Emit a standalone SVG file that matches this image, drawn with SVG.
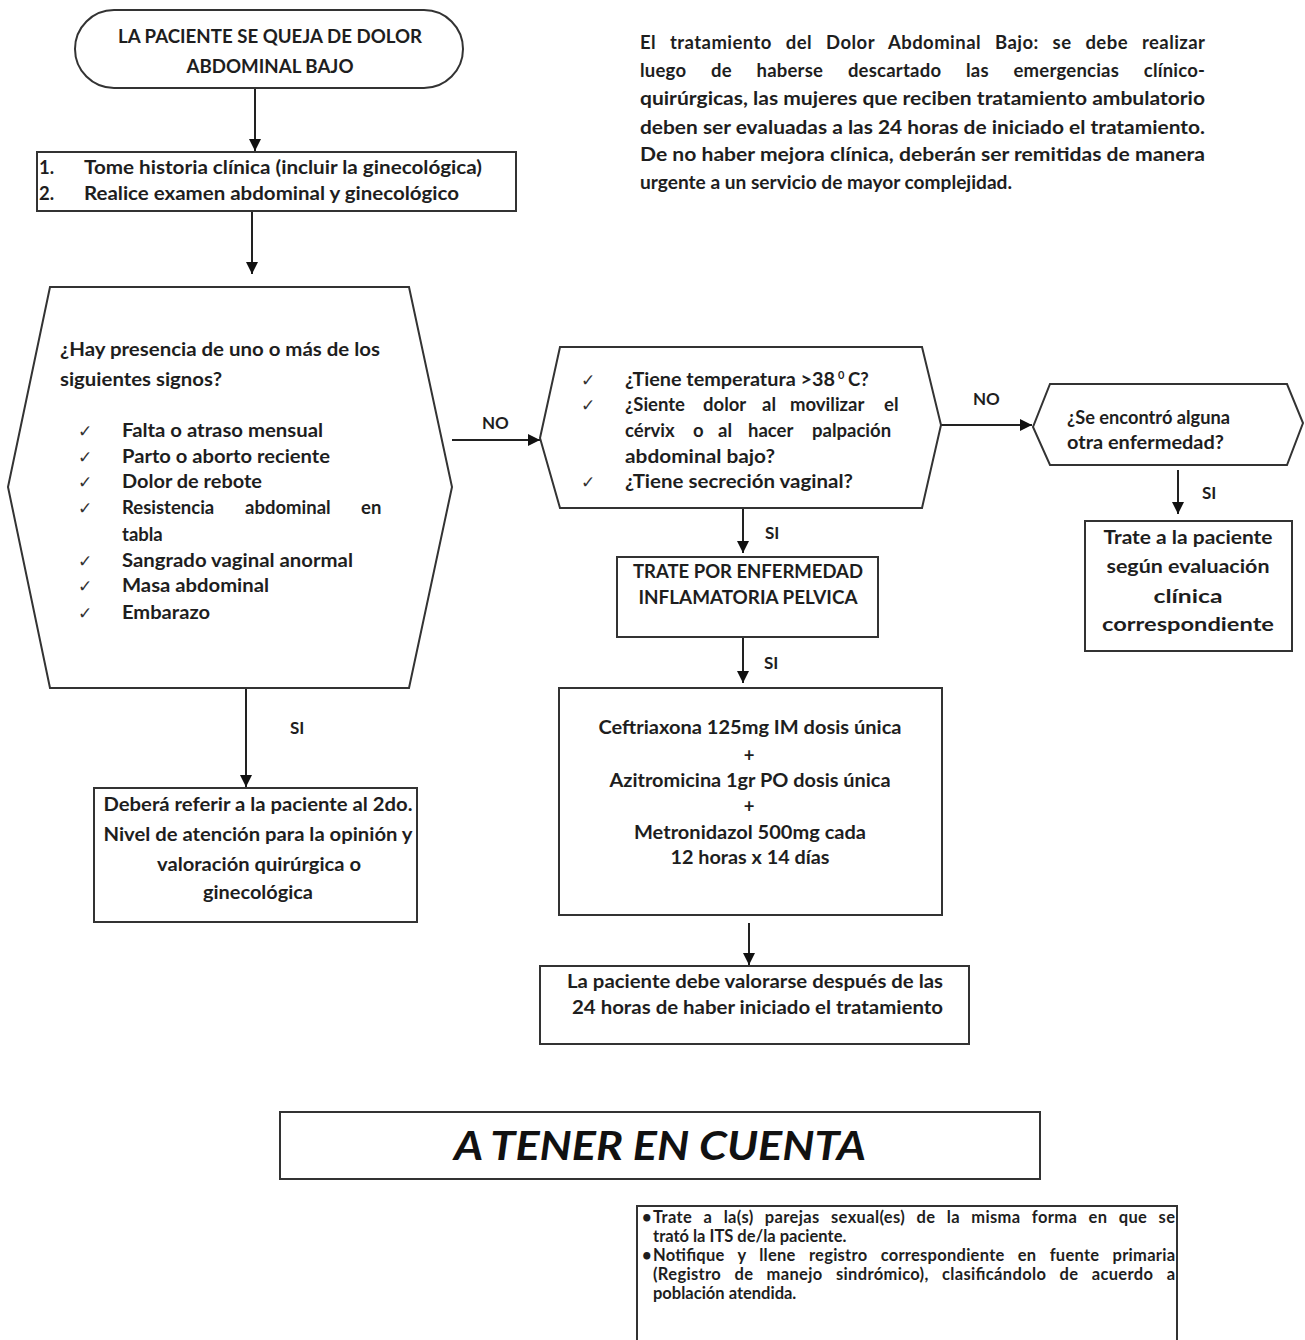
<svg xmlns="http://www.w3.org/2000/svg" width="1305" height="1340" viewBox="0 0 1305 1340">
<defs>
<style>
.sh{fill:#fff;stroke:#333;stroke-width:2}
.t{font-family:Lato,"Open Sans","Liberation Sans",sans-serif;font-weight:bold;font-size:18.5px;fill:#1e1e1e}
.p{font-family:Lato,"Open Sans","Liberation Sans",sans-serif;font-weight:bold;font-size:18.5px;fill:#1e1e1e}
.n{font-family:Lato,"Open Sans","Liberation Sans",sans-serif;font-weight:bold;font-size:16.5px;fill:#1e1e1e}
.ck{font-family:"DejaVu Sans",sans-serif;font-size:17px;fill:#333}
.c{text-anchor:middle}
.lbl{font-family:Lato,"Open Sans","Liberation Sans",sans-serif;font-weight:bold;font-size:17px;fill:#1e1e1e}
.ttl{font-family:Lato,"Open Sans","Liberation Sans",sans-serif;font-style:italic;font-weight:bold;font-size:41px;fill:#111}
.ln{stroke:#222;stroke-width:2;fill:none}
</style>
<marker id="ah" viewBox="0 0 10 10" refX="10" refY="5" markerWidth="6" markerHeight="6" orient="auto" markerUnits="strokeWidth">
<path d="M0,0 L10,5 L0,10 z" fill="#111"/>
</marker>
</defs>
<rect width="1305" height="1340" fill="#fff"/>

<g id="connectors">
<line class="ln" x1="255" y1="88" x2="255" y2="151" marker-end="url(#ah)"/>
<line class="ln" x1="252" y1="211" x2="252" y2="274" marker-end="url(#ah)"/>
<line class="ln" x1="452" y1="440" x2="540" y2="440" marker-end="url(#ah)"/>
<line class="ln" x1="940" y1="425" x2="1032" y2="425" marker-end="url(#ah)"/>
<line class="ln" x1="743" y1="508" x2="743" y2="553" marker-end="url(#ah)"/>
<line class="ln" x1="743" y1="637" x2="743" y2="683" marker-end="url(#ah)"/>
<line class="ln" x1="1178" y1="470" x2="1178" y2="514" marker-end="url(#ah)"/>
<line class="ln" x1="246" y1="688" x2="246" y2="787" marker-end="url(#ah)"/>
<line class="ln" x1="749" y1="923" x2="749" y2="965" marker-end="url(#ah)"/>
<text class="lbl" x="482" y="429">NO</text>
<text class="lbl" x="973" y="405">NO</text>
<text class="lbl" x="765" y="539">SI</text>
<text class="lbl" x="764" y="669">SI</text>
<text class="lbl" x="1202" y="499">SI</text>
<text class="lbl" x="290" y="734">SI</text>
</g>

<g id="start">
<rect class="sh" x="75" y="10" width="388" height="78" rx="39"/>
<text class="t c" x="270" y="43" textLength="304" lengthAdjust="spacingAndGlyphs">LA PACIENTE SE QUEJA DE DOLOR</text>
<text class="t c" x="270" y="73" textLength="167" lengthAdjust="spacingAndGlyphs">ABDOMINAL BAJO</text>
</g>

<g id="note-top">
<text class="p" x="640" y="49" word-spacing="9" textLength="565">El tratamiento del Dolor Abdominal Bajo: se debe realizar</text>
<text class="p" x="640" y="77" word-spacing="20" textLength="565">luego de haberse descartado las emergencias clínico-</text>
<text class="p" x="640" y="105" textLength="565" lengthAdjust="spacingAndGlyphs">quirúrgicas, las mujeres que reciben tratamiento ambulatorio</text>
<text class="p" x="640" y="134" textLength="565" lengthAdjust="spacingAndGlyphs">deben ser evaluadas a las 24 horas de iniciado el tratamiento.</text>
<text class="p" x="640" y="161" textLength="565" lengthAdjust="spacingAndGlyphs">De no haber mejora clínica, deberán ser remitidas de manera</text>
<text class="p" x="640" y="189" textLength="372" lengthAdjust="spacingAndGlyphs">urgente a un servicio de mayor complejidad.</text>
</g>

<g id="step1">
<rect class="sh" x="37" y="152" width="479" height="59"/>
<text class="t" x="39" y="174">1.</text>
<text class="t" x="84" y="174" textLength="398" lengthAdjust="spacingAndGlyphs">Tome historia clínica (incluir la ginecológica)</text>
<text class="t" x="39" y="200">2.</text>
<text class="t" x="84" y="200" textLength="375" lengthAdjust="spacingAndGlyphs">Realice examen abdominal y ginecológico</text>
</g>

<g id="decision1">
<polygon class="sh" points="50,287 409,287 452,487 409,688 50,688 8,487"/>
<text class="t" x="60" y="356" textLength="320" lengthAdjust="spacingAndGlyphs">¿Hay presencia de uno o más de los</text>
<text class="t" x="60" y="386" textLength="162" lengthAdjust="spacingAndGlyphs">siguientes signos?</text>
<text class="ck" x="78" y="437">✓</text>
<text class="ck" x="78" y="463">✓</text>
<text class="ck" x="78" y="488">✓</text>
<text class="ck" x="78" y="514">✓</text>
<text class="ck" x="78" y="567">✓</text>
<text class="ck" x="78" y="592">✓</text>
<text class="ck" x="78" y="619">✓</text>
<text class="t" x="122" y="437" textLength="201" lengthAdjust="spacingAndGlyphs">Falta o atraso mensual</text>
<text class="t" x="122" y="463" textLength="208" lengthAdjust="spacingAndGlyphs">Parto o aborto reciente</text>
<text class="t" x="122" y="488" textLength="140" lengthAdjust="spacingAndGlyphs">Dolor de rebote</text>
<text class="t" y="514"><tspan x="122">Resistencia</tspan><tspan x="245">abdominal</tspan><tspan x="361">en</tspan></text>
<text class="t" x="122" y="541">tabla</text>
<text class="t" x="122" y="567" textLength="231" lengthAdjust="spacingAndGlyphs">Sangrado vaginal anormal</text>
<text class="t" x="122" y="592" textLength="147" lengthAdjust="spacingAndGlyphs">Masa abdominal</text>
<text class="t" x="122" y="619" textLength="88" lengthAdjust="spacingAndGlyphs">Embarazo</text>
</g>

<g id="decision2">
<polygon class="sh" points="560,347 922,347 941,425 922,508 560,508 540,438"/>
<text class="ck" x="581" y="386">✓</text>
<text class="ck" x="581" y="411">✓</text>
<text class="ck" x="581" y="488">✓</text>
<text class="t" y="386"><tspan x="625" textLength="210" lengthAdjust="spacingAndGlyphs">¿Tiene temperatura &gt;38</tspan><tspan x="838" dy="-7" font-size="11">0</tspan><tspan x="848" dy="7">C?</tspan></text>
<text class="t" y="411"><tspan x="625">¿Siente</tspan><tspan x="703">dolor</tspan><tspan x="762">al</tspan><tspan x="790">movilizar</tspan><tspan x="884">el</tspan></text>
<text class="t" y="437"><tspan x="625">cérvix</tspan><tspan x="693">o</tspan><tspan x="718">al</tspan><tspan x="748">hacer</tspan><tspan x="812">palpación</tspan></text>
<text class="t" x="625" y="463" textLength="150" lengthAdjust="spacingAndGlyphs">abdominal bajo?</text>
<text class="t" x="625" y="488" textLength="228" lengthAdjust="spacingAndGlyphs">¿Tiene secreción vaginal?</text>
</g>

<g id="decision3">
<polygon class="sh" points="1050,384 1287,384 1303,423 1287,465 1050,465 1033,427"/>
<text class="t" x="1067" y="424" textLength="163" lengthAdjust="spacingAndGlyphs">¿Se encontró alguna</text>
<text class="t" x="1067" y="449" textLength="157" lengthAdjust="spacingAndGlyphs">otra enfermedad?</text>
</g>

<g id="treat-other">
<rect class="sh" x="1085" y="521" width="207" height="130"/>
<text class="t c" x="1188" y="544" textLength="169" lengthAdjust="spacingAndGlyphs">Trate a la paciente</text>
<text class="t c" x="1188" y="573" textLength="163" lengthAdjust="spacingAndGlyphs">según  evaluación</text>
<text class="t c" x="1188" y="603" textLength="69" lengthAdjust="spacingAndGlyphs">clínica</text>
<text class="t c" x="1188" y="631" textLength="172" lengthAdjust="spacingAndGlyphs">correspondiente</text>
</g>

<g id="treat-epi">
<rect class="sh" x="617" y="557" width="261" height="80"/>
<text class="t c" x="748" y="578" textLength="230" lengthAdjust="spacingAndGlyphs">TRATE POR ENFERMEDAD</text>
<text class="t c" x="748" y="604" textLength="219" lengthAdjust="spacingAndGlyphs">INFLAMATORIA PELVICA</text>
</g>

<g id="meds">
<rect class="sh" x="559" y="688" width="383" height="227"/>
<text class="t c" x="750" y="734" textLength="303" lengthAdjust="spacingAndGlyphs">Ceftriaxona 125mg IM dosis única</text>
<text class="t c" x="749" y="762">+</text>
<text class="t c" x="750" y="787" textLength="281" lengthAdjust="spacingAndGlyphs">Azitromicina 1gr PO dosis única</text>
<text class="t c" x="749" y="813">+</text>
<text class="t c" x="750" y="839" textLength="232" lengthAdjust="spacingAndGlyphs">Metronidazol 500mg cada</text>
<text class="t c" x="750" y="864" textLength="159" lengthAdjust="spacingAndGlyphs">12 horas x 14 días</text>
</g>

<g id="refer">
<rect class="sh" x="94" y="788" width="323" height="134"/>
<text class="t c" x="258" y="811" textLength="309" lengthAdjust="spacingAndGlyphs">Deberá referir a la paciente al 2do.</text>
<text class="t c" x="258" y="841" textLength="309" lengthAdjust="spacingAndGlyphs">Nivel de atención para la opinión y</text>
<text class="t c" x="259" y="871" textLength="204" lengthAdjust="spacingAndGlyphs">valoración quirúrgica o</text>
<text class="t c" x="258" y="899" textLength="110" lengthAdjust="spacingAndGlyphs">ginecológica</text>
</g>

<g id="reassess">
<rect class="sh" x="540" y="966" width="429" height="78"/>
<text class="t" x="567" y="988" textLength="376" lengthAdjust="spacingAndGlyphs">La paciente debe valorarse después de las</text>
<text class="t" x="572" y="1014" textLength="371" lengthAdjust="spacingAndGlyphs">24 horas de haber iniciado el tratamiento</text>
</g>

<g id="title">
<rect class="sh" x="280" y="1112" width="760" height="67"/>
<text class="ttl c" x="660" y="1160" textLength="412" lengthAdjust="spacingAndGlyphs">A TENER EN CUENTA</text>
</g>

<g id="notes">
<rect class="sh" x="637" y="1206" width="540" height="150"/>
<text class="n" x="642" y="1223">•</text>
<text class="n" x="653" y="1223" word-spacing="7" textLength="522">Trate a la(s) parejas sexual(es) de la misma forma en que se</text>
<text class="n" x="653" y="1242">trató la ITS de/la paciente.</text>
<text class="n" x="642" y="1261">•</text>
<text class="n" x="653" y="1261" word-spacing="9" textLength="522">Notifique y llene registro correspondiente en fuente primaria</text>
<text class="n" x="653" y="1280" word-spacing="9" textLength="522">(Registro de manejo sindrómico), clasificándolo de acuerdo a</text>
<text class="n" x="653" y="1299">población atendida.</text>
</g>
</svg>
